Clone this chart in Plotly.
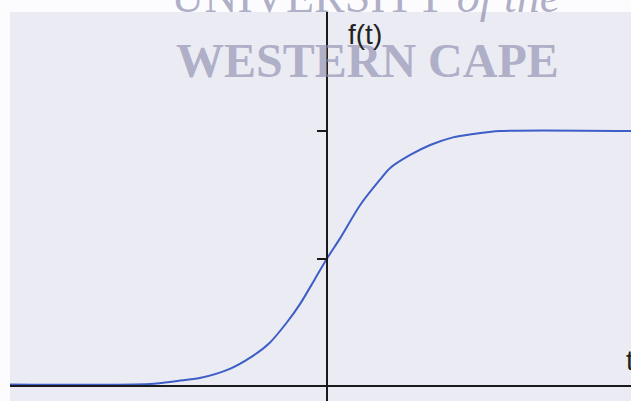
import plotly.graph_objects as go

# Data (t in arbitrary units, f(t) from 0 to 1)
t_values = [-7.925, -4.43, -3.73, -3.18, -2.43, -1.93, -1.43, -1.0, -0.68, -0.3,
            0.0, 0.33, 0.83, 1.33, 1.58, 2.08, 2.58, 3.15, 3.65, 4.33, 7.6]
f_values = [0.006, 0.008, 0.02, 0.031, 0.067, 0.11, 0.17, 0.25, 0.32, 0.42,
            0.5, 0.58, 0.71, 0.81, 0.855, 0.906, 0.945, 0.975, 0.988, 1.0, 1.0]
y_tick_values = [0.5, 1.0]

fig = go.Figure()
fig.add_trace(go.Scatter(
    x=t_values, y=f_values, mode="lines",
    line=dict(color="#3d5ec6", width=2, shape="spline", smoothing=0.8),
    hoverinfo="skip", showlegend=False,
))

fig.update_layout(
    width=631, height=401,
    margin=dict(l=10, r=0, t=12, b=0),
    paper_bgcolor="#fcfcfe",
    plot_bgcolor="#eaebf3",
    showlegend=False,
    xaxis=dict(
        range=[-7.925, 7.6], anchor="free", position=0.0386,
        showline=True, linecolor="#1a1a1a", linewidth=1.5,
        showgrid=False, zeroline=False, ticks="", showticklabels=False,
    ),
    yaxis=dict(
        range=[-0.0588, 1.4667], anchor="free", position=0.5105,
        showline=True, linecolor="#1a1a1a", linewidth=1.5,
        showgrid=False, zeroline=False,
        ticks="outside", ticklen=9, tickwidth=1.5, tickcolor="#1a1a1a",
        tickvals=y_tick_values, showticklabels=False,
    ),
    annotations=[
        dict(text="UNIVERSITY <i>of the</i>", x=0.95, y=1.42, xref="x", yref="y",
             xanchor="center", yanchor="bottom", showarrow=False,
             font=dict(family="Liberation Serif", size=46, color="rgba(140,140,175,0.7)")),
        dict(text="<b>WESTERN CAPE</b>", x=1.0, y=1.278, xref="x", yref="y",
             xanchor="center", yanchor="middle", showarrow=False,
             font=dict(family="Liberation Serif", size=48, color="rgba(140,140,175,0.65)")),
        dict(text="f(t)", x=0.47, y=1.38, xref="x", yref="y",
             xanchor="left", yanchor="middle", showarrow=False,
             font=dict(family="Liberation Sans", size=28, color="#222222")),
        dict(text="t", x=7.425, y=0.102, xref="x", yref="y",
             xanchor="left", yanchor="middle", showarrow=False,
             font=dict(family="Liberation Sans", size=28, color="#222222")),
    ],
)

fig.write_html(
    "out.html",
    config={"displayModeBar": False},
    post_script="document.body.style.margin='0px';document.body.style.overflow='hidden';",
)
